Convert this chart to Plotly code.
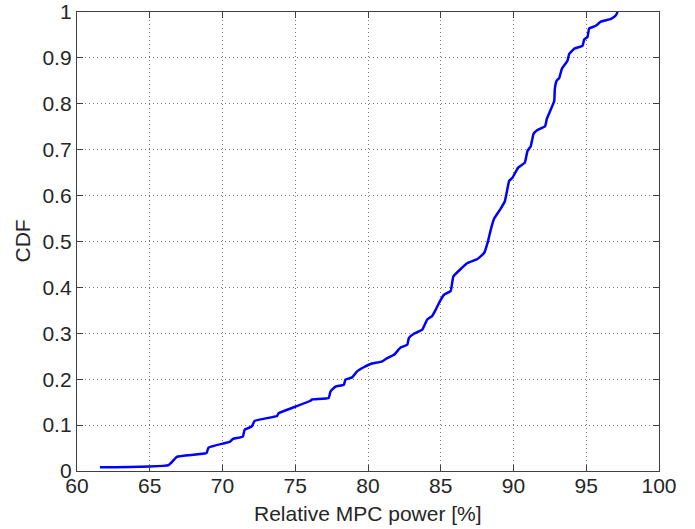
import plotly.graph_objects as go

power = [61.58, 66.3, 66.86, 68.9, 69.04, 70.53, 70.72, 71.4, 71.52, 72.02, 72.2, 73.75, 73.86,
         75.0, 76.04, 76.16, 77.3, 77.42, 77.76, 78.34, 78.45, 78.91, 79.25, 79.71, 80.17, 80.98,
         81.32, 81.78, 82.24, 82.7, 82.81, 83.15, 83.73, 84.07, 84.42, 84.65, 84.88, 85.22, 85.68,
         85.87, 86.83, 87.52, 87.98, 88.26, 88.44, 88.67, 89.09, 89.4, 89.53, 89.7, 89.93, 90.32,
         90.78, 90.96, 91.19, 91.37, 91.6, 92.17, 92.29, 92.57, 92.8, 92.84, 92.96, 93.14, 93.32,
         93.71, 93.82, 94.17, 94.74, 94.86, 95.09, 95.2, 95.66, 96.0, 96.7, 97.04, 97.16]
cdf = [0.008, 0.013, 0.031, 0.039, 0.051, 0.064, 0.07, 0.075, 0.09, 0.097, 0.109, 0.12, 0.126,
       0.14, 0.153, 0.156, 0.159, 0.173, 0.184, 0.188, 0.199, 0.204, 0.217, 0.226, 0.233, 0.239,
       0.246, 0.253, 0.269, 0.275, 0.29, 0.299, 0.308, 0.33, 0.338, 0.351, 0.366, 0.384, 0.392,
       0.424, 0.453, 0.462, 0.475, 0.502, 0.526, 0.55, 0.57, 0.587, 0.606, 0.632, 0.639, 0.661,
       0.672, 0.697, 0.708, 0.734, 0.742, 0.751, 0.767, 0.788, 0.806, 0.832, 0.85, 0.856, 0.876,
       0.894, 0.908, 0.92, 0.926, 0.94, 0.946, 0.964, 0.97, 0.979, 0.985, 0.993, 1.0]

x_ticks = [60, 65, 70, 75, 80, 85, 90, 95, 100]
y_ticks = [0, 0.1, 0.2, 0.3, 0.4, 0.5, 0.6, 0.7, 0.8, 0.9, 1]
y_labels = ["0", "0.1", "0.2", "0.3", "0.4", "0.5", "0.6", "0.7", "0.8", "0.9", "1"]
x_title = "Relative MPC power [%]"
y_title = "CDF"

FONT = "Liberation Sans, Arial, Helvetica"
TXT = "#262626"

fig = go.Figure()
fig.add_trace(go.Scatter(x=power, y=cdf, mode="lines",
                         line=dict(color="#0000FF", width=2.5, shape="spline", smoothing=0.3)))

axis_common = dict(showline=True, linecolor="#404040", linewidth=1.3, mirror="ticks",
                   ticks="inside", ticklen=6, tickcolor="#404040", tickwidth=1,
                   showgrid=True, gridcolor="#777777", griddash="1px,3px", gridwidth=1,
                   zeroline=False, automargin=False, ticklabeloverflow="allow",
                   tickfont=dict(family=FONT, size=21, color=TXT))

fig.update_layout(
    width=695, height=529,
    margin=dict(l=77, r=36, t=12, b=58),
    paper_bgcolor="white", plot_bgcolor="white",
    showlegend=False,
    font=dict(family=FONT, size=21, color=TXT),
    xaxis=dict(range=[60, 100], tickvals=x_ticks, ticklabelstandoff=-4, **axis_common),
    yaxis=dict(range=[0, 1], tickvals=y_ticks, ticktext=y_labels, **axis_common),
    annotations=[
        dict(text=x_title, xref="paper", yref="paper", x=0.5, y=0, xanchor="center",
             yanchor="middle", yshift=-42, showarrow=False, font=dict(family=FONT, size=21, color=TXT)),
        dict(text=y_title, xref="paper", yref="paper", x=0, y=0.5, xanchor="center",
             yanchor="middle", xshift=-55, textangle=-90, showarrow=False,
             font=dict(family=FONT, size=21, color=TXT)),
    ],
)

# remove the browser's default 8px body margin so the figure sits at the page origin
fig.write_html("out.html", config={"displayModeBar": False},
               post_script="document.body.style.margin='0';document.body.style.overflow='hidden';")
